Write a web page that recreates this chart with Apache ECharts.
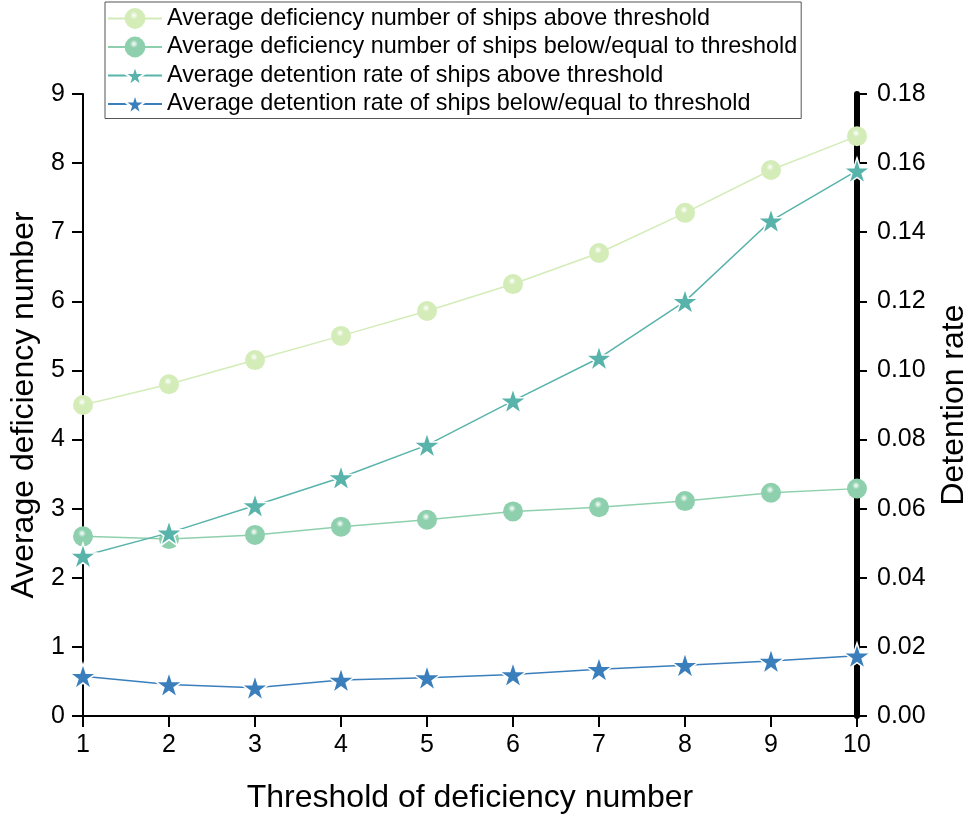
<!DOCTYPE html>
<html>
<head>
<meta charset="utf-8">
<script src="https://cdn.jsdelivr.net/npm/echarts@6/dist/echarts.min.js"></script>
<style>
  html, body { margin: 0; padding: 0; background: #fff; }
  #chart { width: 969px; height: 815px; }
</style>
</head>
<body>
<div id="chart"></div>
<script>
// thresholds
const thresholds = [1, 2, 3, 4, 5, 6, 7, 8, 9, 10];
// average deficiency number (left axis)
const defAbove = [4.50, 4.80, 5.15, 5.50, 5.86, 6.25, 6.70, 7.28, 7.90, 8.39];
const defBelow = [2.60, 2.56, 2.62, 2.74, 2.84, 2.96, 3.02, 3.11, 3.23, 3.29];
// average detention rate (right axis)
const detAbove = [0.0463, 0.0530, 0.0609, 0.0690, 0.0784, 0.0912, 0.1036, 0.1200, 0.1433, 0.1578];
const detBelow = [0.0115, 0.0091, 0.0082, 0.0104, 0.0111, 0.0120, 0.0135, 0.0147, 0.0159, 0.0174];

const names = [
  'Average deficiency number of ships above threshold',
  'Average deficiency number of ships below/equal to threshold',
  'Average detention rate of ships above threshold',
  'Average detention rate of ships below/equal to threshold'
];
const colors = ['#d3ecb8', '#8ed0ad', '#58b3ab', '#3a7fbc'];

const star = 'path://M50 0 L61.23 34.55 L97.55 34.55 L68.16 55.9 L79.39 90.45 L50 69.1 L20.61 90.45 L31.84 55.9 L2.45 34.55 L38.77 34.55 Z';

function pairs(vals) {
  return thresholds.map((t, i) => [t, vals[i]]);
}

// ball-like fill for the circle markers
function sphere(c) {
  return {
    type: 'radial', x: 0.45, y: 0.35, r: 0.65,
    colorStops: [
      { offset: 0, color: '#ffffff' },
      { offset: 0.3, color: c },
      { offset: 1, color: c }
    ]
  };
}

const font = 'Liberation Sans, Arial, sans-serif';

const chart = echarts.init(document.getElementById('chart'));

const option = {
  animation: false,
  backgroundColor: '#fff',
  textStyle: { fontFamily: font },
  grid: { left: 83, right: 112, top: 94, bottom: 99, outerBoundsMode: 'none', containLabel: false },
  legend: {
    orient: 'vertical',
    left: 105,
    top: 2,
    itemWidth: 54,
    itemHeight: 26,
    itemGap: 5.5,
    padding: [5, 4, 3, 2],
    borderColor: '#555',
    borderWidth: 1,
    textStyle: { fontSize: 23.4, color: '#000', fontFamily: font },
    data: names
  },
  xAxis: {
    type: 'value',
    min: 1,
    max: 10,
    interval: 1,
    name: 'Threshold of deficiency number',
    nameLocation: 'middle',
    nameGap: 66,
    nameTextStyle: { fontSize: 32, color: '#000' },
    axisLine: { lineStyle: { color: '#000', width: 2 } },
    axisTick: { inside: false, length: 11, lineStyle: { width: 2 } },
    axisLabel: { fontSize: 25, color: '#000', margin: 17 },
    splitLine: { show: false }
  },
  yAxis: [
    {
      type: 'value',
      min: 0,
      max: 9,
      interval: 1,
      name: 'Average deficiency number',
      nameLocation: 'middle',
      nameGap: 36,
      nameTextStyle: { fontSize: 32, color: '#000' },
      axisLine: { show: true, lineStyle: { color: '#000', width: 2 } },
      axisTick: { show: true, length: 11, lineStyle: { width: 2 } },
      axisLabel: { fontSize: 25, color: '#000', margin: 18 },
      splitLine: { show: false }
    },
    {
      type: 'value',
      min: 0,
      max: 0.18,
      interval: 0.02,
      position: 'right',
      name: 'Detention rate',
      nameLocation: 'middle',
      nameGap: 81,
      nameTextStyle: { fontSize: 32, color: '#000' },
      axisLine: { show: true, lineStyle: { color: '#000', width: 6 } },
      axisTick: { show: true, length: 10, lineStyle: { width: 2 } },
      axisLabel: { fontSize: 25, color: '#000', margin: 20, formatter: v => v.toFixed(2) },
      splitLine: { show: false }
    }
  ],
  series: [
    {
      name: names[0],
      type: 'line',
      yAxisIndex: 0,
      data: pairs(defAbove),
      symbol: 'circle',
      symbolSize: 20,
      lineStyle: { color: colors[0], width: 1.5 },
      itemStyle: { color: sphere(colors[0]) },
      z: 2
    },
    {
      name: names[1],
      type: 'line',
      yAxisIndex: 0,
      data: pairs(defBelow),
      symbol: 'circle',
      symbolSize: 20,
      lineStyle: { color: colors[1], width: 1.5 },
      itemStyle: { color: sphere(colors[1]) },
      z: 3
    },
    {
      name: names[2],
      type: 'line',
      yAxisIndex: 1,
      data: pairs(detAbove),
      symbol: star,
      symbolSize: 27,
      symbolKeepAspect: true,
      lineStyle: { color: colors[2], width: 1.5 },
      itemStyle: { color: colors[2], borderColor: '#fff', borderWidth: 1.5 },
      z: 4
    },
    {
      name: names[3],
      type: 'line',
      yAxisIndex: 1,
      data: pairs(detBelow),
      symbol: star,
      symbolSize: 27,
      symbolKeepAspect: true,
      lineStyle: { color: colors[3], width: 1.5 },
      itemStyle: { color: colors[3], borderColor: '#fff', borderWidth: 1.5 },
      z: 5
    }
  ]
};

chart.setOption(option);
</script>
</body>
</html>
